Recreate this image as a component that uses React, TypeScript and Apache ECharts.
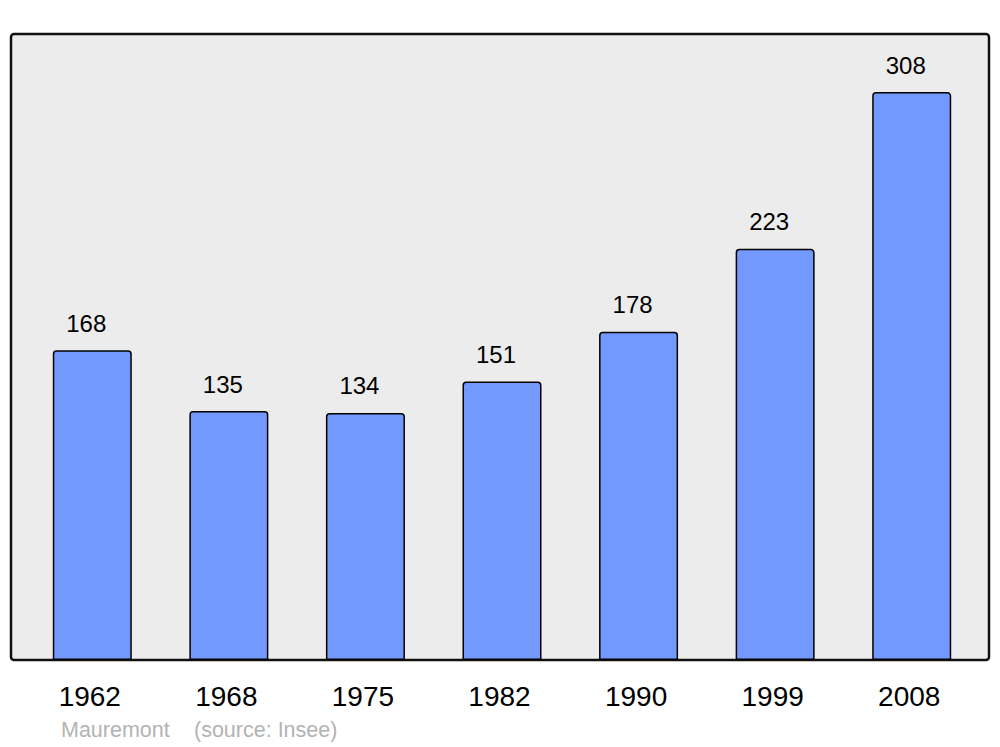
import React, { useEffect, useRef } from "react";
import * as echarts from "echarts";

const years = ["1962", "1968", "1975", "1982", "1990", "1999", "2008"];
const population = [168, 135, 134, 151, 178, 223, 308];
const footerName = "Mauremont";
const footerSource = "(source: Insee)";

export default function App() {
  const ref = useRef<HTMLDivElement>(null);
  useEffect(() => {
    if (!ref.current) return;
    const chart = echarts.init(ref.current, null, { renderer: "svg" });
    chart.setOption({
      animation: false,
      backgroundColor: "#ffffff",
      textStyle: { fontFamily: "Liberation Sans" },
      graphic: [
        {
          type: "rect",
          z: -10,
          silent: true,
          shape: { x: 11, y: 34, width: 978, height: 626, r: 3 },
          style: { fill: "#ececec", stroke: "#111111", lineWidth: 2.5 },
        },
        {
          type: "text",
          left: 61,
          top: 719,
          style: {
            text: footerName,
            fill: "#b3b3b3",
            font: "21.5px 'Liberation Sans'",
          },
        },
        {
          type: "text",
          left: 194,
          top: 719,
          style: {
            text: footerSource,
            fill: "#b3b3b3",
            font: "21.5px 'Liberation Sans'",
          },
        },
      ],
      grid: { left: 24, right: 20, top: 34, bottom: 87, containLabel: false },
      xAxis: {
        type: "category",
        data: years,
        axisLine: { show: false },
        axisTick: { show: false },
        axisLabel: {
          color: "#000000",
          fontSize: 28,
          margin: 22,
          padding: [0, 5, 0, 0],
          fontFamily: "Liberation Sans",
        },
      },
      yAxis: {
        type: "value",
        min: 0,
        max: 339.5,
        show: false,
        splitLine: { show: false },
      },
      series: [
        {
          type: "bar",
          data: population,
          barWidth: 79,
          itemStyle: {
            color: "#7399ff",
            borderColor: "#000000",
            borderWidth: 1.5,
            borderRadius: [3, 3, 0, 0],
          },
          label: {
            show: true,
            position: "top",
            distance: 15,
            offset: [-6, 0],
            color: "#000000",
            fontSize: 24,
            fontFamily: "Liberation Sans",
          },
        },
      ],
    });
    return () => chart.dispose();
  }, []);
  return <div ref={ref} style={{ width: 1000, height: 747, position: "absolute", left: 0, top: 0 }} />;
}
